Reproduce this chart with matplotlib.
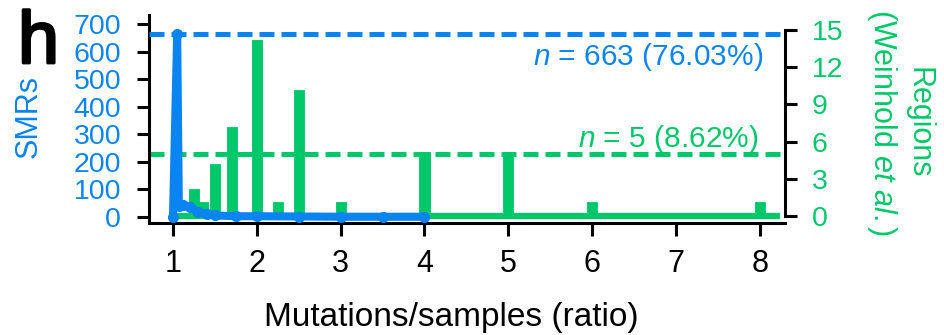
import matplotlib
matplotlib.use('Agg')
import matplotlib.pyplot as plt
import matplotlib.patheffects as pe

plt.rcParams['font.family'] = ['Liberation Sans', 'DejaVu Sans']
plt.rcParams['mathtext.fontset'] = 'custom'
plt.rcParams['mathtext.it'] = 'Liberation Sans:italic'
plt.rcParams['mathtext.rm'] = 'Liberation Sans'

BLUE = '#0a84f0'
GREEN = '#00c86a'

# SMRs frequency (left axis)
smr_ratio = [1.0, 1.05, 1.07, 1.12, 1.2, 1.3, 1.4, 1.5, 1.75, 2.0, 2.5, 3.0, 3.5, 4.0]
smr_count = [0, 663, 40, 42, 35, 20, 10, 6, 3, 3, 2, 1, 1, 1]

# Regions (Weinhold et al.) counts (right axis)
region_ratio = [1.25, 1.36, 1.5, 1.7, 2.0, 2.25, 2.5, 3.0, 4.0, 5.0, 6.0, 8.0]
region_count = [2, 1, 4, 7, 14, 1, 10, 1, 5, 5, 1, 1]

smr_ratio1_n = 663
region_ratio1_n = 5
x_ticks = [1, 2, 3, 4, 5, 6, 7, 8]
left_ticks = [0, 100, 200, 300, 400, 500, 600, 700]
right_ticks = [0, 3, 6, 9, 12, 15]

W, H = 944, 335
fig = plt.figure(figsize=(W / 100, H / 100), dpi=100)
ax = fig.add_axes([149 / W, 1 - 223 / H, (785 - 149) / W, (223 - 15) / H])
ax2 = ax.twinx()
ax.set_zorder(ax2.get_zorder() + 1)
ax.patch.set_visible(False)

ax.set_xlim(0.714, 8.30)
ax.set_ylim(-21.5, 732.6)
ax2.set_ylim(-0.56, 16.2)

# green bars + baseline
ax2.bar(region_ratio, region_count, width=0.075, color=GREEN, edgecolor=GREEN,
        linewidth=3.5, zorder=2)
ax2.plot([1.05, 8.24], [0, 0], color=GREEN, lw=4.5, solid_capstyle='butt', zorder=2)
ax2.axhline(region_ratio1_n, color=GREEN, lw=3.6, linestyle=(0, (3.0, 1.4)), zorder=3)

# blue line
ax.plot(smr_ratio, smr_count, color=BLUE, lw=5.8, marker='o', markersize=7,
        solid_capstyle='round', solid_joinstyle='round', zorder=4)
ax.axhline(smr_ratio1_n, color=BLUE, lw=3.6, linestyle=(0, (3.0, 1.4)), zorder=3)

for s in ['top', 'right']:
    ax.spines[s].set_visible(False)
for s in ['top', 'left', 'bottom']:
    ax2.spines[s].set_visible(False)
for s in ['left', 'bottom']:
    ax.spines[s].set_linewidth(2.2)
ax2.spines['right'].set_linewidth(2.2)
ax2.spines['right'].set_bounds(0, 15)

ax.set_xticks(x_ticks)
ax.set_yticks(left_ticks)
ax2.set_yticks(right_ticks)

ax.tick_params(axis='y', length=8.6, width=2.2, pad=11.5, labelsize=20.5, labelcolor=BLUE)
ax.tick_params(axis='x', length=9.5, width=2.2, pad=9, labelsize=22, labelcolor='black')
ax2.tick_params(axis='y', length=8.6, width=2.2, pad=10.8, labelsize=20.5, labelcolor=GREEN)

fig.text(451 / W, 1 - 326 / H, 'Mutations/samples (ratio)', fontsize=24,
         ha='center', va='baseline', color='black')

fig.text(29 / W, 1 - 117 / H, 'SMRs', rotation=90, color=BLUE, fontsize=22,
         ha='center', va='center')
fig.text(919 / W, 1 - 123 / H, 'Regions', rotation=270, color=GREEN, fontsize=22,
         ha='center', va='center')
fig.text(882 / W, 1 - 123 / H, '(Weinhold $\\mathit{et\\ al.}$)', rotation=270,
         color=GREEN, fontsize=22, ha='center', va='center')

fig.text(763 / W, 1 - 65 / H, '$\\mathit{n}$ = 663 (76.03%)', color=BLUE,
         fontsize=21.5, ha='right', va='baseline')
fig.text(758 / W, 1 - 147 / H, '$\\mathit{n}$ = 5 (8.62%)', color=GREEN,
         fontsize=21.5, ha='right', va='baseline')

fig.text(18 / W, 1 - 63 / H, 'h', fontsize=53, color='black', ha='left', va='baseline',
         path_effects=[pe.withStroke(linewidth=2, foreground='black')])

fig.savefig('out.png', dpi=100)
